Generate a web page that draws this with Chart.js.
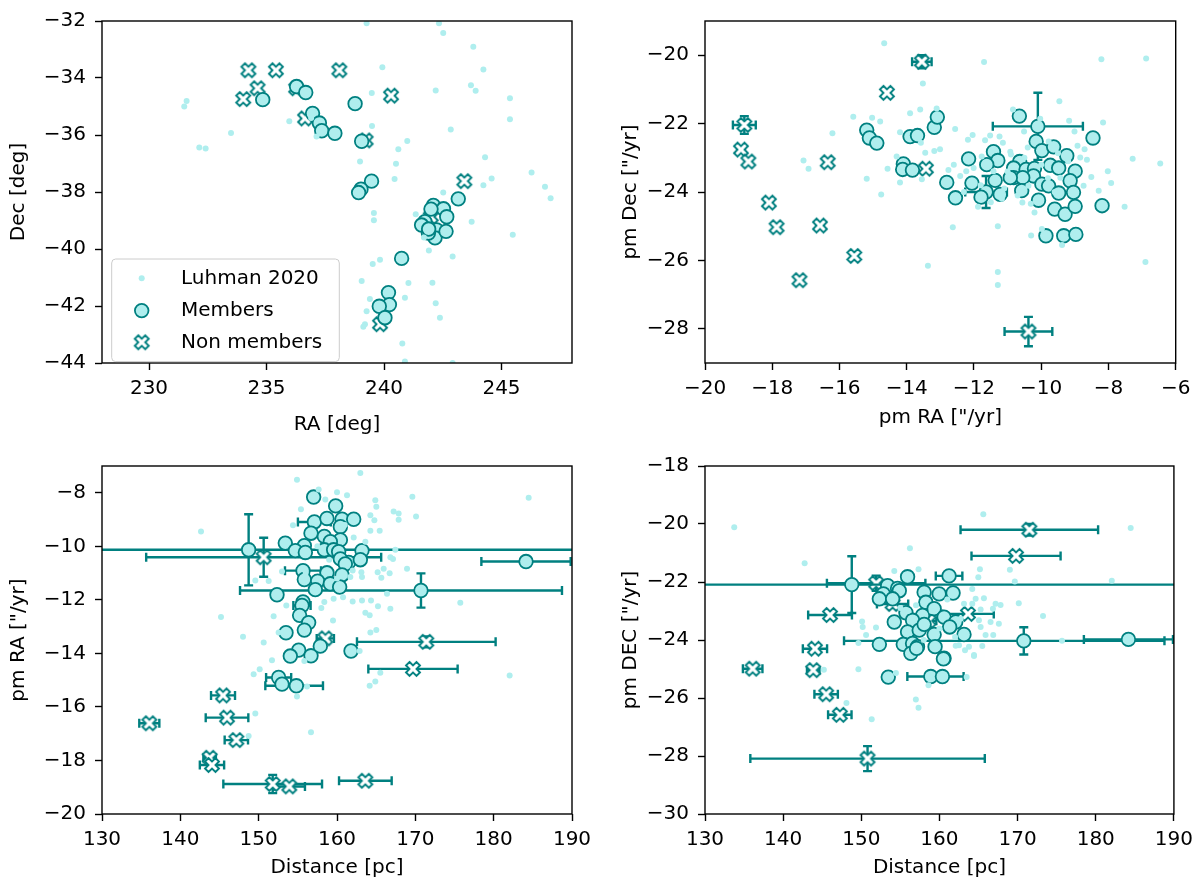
<!DOCTYPE html>
<html>
<head>
<meta charset="utf-8">
<script src="https://cdn.jsdelivr.net/npm/chart.js@4.4.0/dist/chart.umd.min.js"></script>
<style>
  body { margin: 0; background: #fff; width: 1200px; height: 890px; position: relative; overflow: hidden; }
  canvas { position: absolute; }
</style>
</head>
<body>
<canvas id="raDec" width="600" height="445" style="left:0;top:0"></canvas>
<canvas id="pm" width="600" height="445" style="left:600px;top:0"></canvas>
<canvas id="distPmra" width="600" height="445" style="left:0;top:445px"></canvas>
<canvas id="distPmdec" width="600" height="445" style="left:600px;top:445px"></canvas>
<script>
// ---- data ----
// points are [x, y] or [x, y, xerr, yerr]; xerr may be [minus, plus]

// RA / Dec
const raTicks = [230, 235, 240, 245];
const decTicks = [-44, -42, -40, -38, -36, -34, -32];
const raDecLuhman = [
  [239.26,-32.08],[242.34,-32.08],[242.52,-32.42],[243.80,-32.90],[239.93,-33.62],[244.23,-33.70],
  [243.70,-34.25],[243.90,-34.45],[242.20,-34.44],[239.48,-34.53],[245.36,-34.71],[231.60,-34.81],
  [231.50,-35.00],[245.36,-35.45],[235.97,-35.52],[239.49,-35.68],[242.84,-35.81],[233.49,-35.93],
  [240.99,-36.21],[240.61,-36.50],[232.14,-36.44],[232.41,-36.47],[238.98,-36.93],[240.51,-37.01],
  [244.30,-36.78],[240.45,-37.54],[244.58,-37.53],[244.23,-37.76],[246.28,-37.32],[246.85,-37.82],
  [247.09,-38.22],[242.52,-38.02],[237.13,-36.05],[243.73,-39.04],[245.48,-39.50],[241.35,-38.78],
  [239.57,-38.74],[239.57,-38.99],[241.91,-40.05],[242.92,-40.26],[239.83,-40.38],[239.52,-40.53],
  [239.05,-41.12],[241.04,-41.19],[242.06,-41.18],[240.89,-41.71],[242.20,-41.90],[242.38,-42.41],
  [239.40,-41.75],[239.26,-42.18],[239.19,-42.64],[239.12,-42.73],[240.78,-43.32],[240.89,-43.95],
  [242.92,-44.00],[236.90,-35.40],[241.70,-39.60]
];
const raDecMembers = [
  [234.84,-34.76],[236.28,-34.30],[236.67,-34.51],[238.77,-34.90],[236.96,-35.24],[237.25,-35.58],
  [237.35,-35.85],[237.91,-35.94],[239.05,-36.22],[239.47,-37.62],[239.02,-37.90],[238.92,-38.02],
  [243.16,-38.24],[242.10,-38.47],[242.53,-38.59],[242.67,-38.87],[241.74,-39.04],[241.60,-39.16],
  [242.24,-39.33],[242.17,-39.61],[242.64,-39.38],[241.89,-39.44],[242.00,-38.60],[241.90,-39.30],
  [240.75,-40.33],[240.19,-41.53],[240.23,-41.95],[239.80,-42.01],[240.04,-42.41]
];
const raDecNonMembers = [
  [234.23,-33.73],[235.40,-33.73],[238.10,-33.73],[234.62,-34.36],[234.01,-34.74],[236.26,-34.36],
  [240.30,-34.62],[236.64,-35.42],[239.22,-36.19],[243.42,-37.62],[241.99,-38.87],[242.05,-39.33],
  [239.83,-42.64]
];

// proper motions
const pmRaTicks = [-20, -18, -16, -14, -12, -10, -8, -6];
const pmDecTicks = [-28, -26, -24, -22, -20];
const pmLuhman = [
  [-14.67,-19.65],[-11.70,-20.20],[-8.21,-20.12],[-6.88,-20.10],[-13.52,-20.83],[-9.46,-21.35],
  [-15.59,-21.80],[-15.03,-21.83],[-14.79,-21.94],[-13.90,-21.70],[-13.60,-21.59],[-13.11,-21.56],
  [-8.16,-21.97],[-9.17,-21.92],[-9.01,-22.23],[-16.21,-22.28],[-14.20,-22.25],[-13.58,-22.56],
  [-13.45,-22.85],[-13.18,-22.80],[-13.01,-22.75],[-12.56,-22.16],[-12.18,-22.47],[-12.04,-22.33],
  [-11.67,-22.49],[-11.52,-22.35],[-11.24,-22.38],[-11.14,-22.56],[-10.92,-22.82],[-10.84,-21.59],
  [-10.51,-22.23],[-10.03,-21.86],[-9.78,-22.52],[-9.50,-22.87],[-8.92,-22.65],[-8.71,-22.75],
  [-8.84,-22.99],[-8.64,-23.06],[-7.28,-23.03],[-6.46,-23.17],[-8.02,-23.39],[-7.92,-23.74],
  [-8.51,-23.56],[-8.29,-23.96],[-17.07,-23.08],[-16.92,-23.32],[-14.57,-23.32],[-15.19,-23.61],
  [-14.76,-24.07],[-14.20,-23.72],[-13.55,-23.63],[-12.76,-23.36],[-12.41,-23.53],[-12.23,-23.39],
  [-12.01,-23.30],[-11.77,-22.96],[-11.42,-23.39],[-10.38,-23.82],[-9.43,-23.58],[-8.74,-23.82],
  [-14.30,-22.96],[-7.52,-24.43],[-12.63,-25.03],[-11.29,-25.00],[-10.30,-25.27],[-9.98,-25.08],
  [-9.38,-25.55],[-13.37,-26.16],[-11.29,-26.34],[-11.29,-26.72],[-6.90,-26.05],[-11.88,-24.43],
  [-10.56,-24.31],[-10.31,-24.34],[-11.17,-24.20],[-11.00,-23.40],[-10.50,-23.00],[-10.00,-23.20],
  [-9.80,-23.60],[-10.70,-24.10],[-11.80,-23.80],[-12.30,-24.00],[-9.20,-23.10],[-10.90,-22.90],
  [-11.50,-24.30],[-10.20,-24.60],[-9.60,-24.00],[-12.60,-23.20],[-11.10,-23.90],[-10.40,-22.70]
];
const pmMembers = [
  [-10.10,-22.08,1.34,0.98],[-11.64,-24.00,0.62,0.47],
  [-15.19,-22.19],[-15.11,-22.42],[-14.89,-22.57],[-13.90,-22.38],[-13.68,-22.35],[-13.18,-22.11],
  [-13.09,-21.81],[-10.65,-21.78],[-8.46,-22.42],[-10.15,-22.52],[-9.98,-22.79],[-9.63,-22.68],
  [-9.24,-22.94],[-12.16,-23.03],[-11.42,-22.82],[-11.29,-23.08],[-11.62,-23.20],[-10.64,-23.11],
  [-10.82,-23.30],[-9.73,-23.22],[-9.48,-23.30],[-8.99,-23.39],[-10.45,-23.34],[-10.20,-23.31],
  [-10.23,-23.53],[-9.98,-23.77],[-9.78,-23.82],[-9.14,-23.67],[-9.04,-24.01],[-10.82,-23.58],
  [-10.55,-23.58],[-10.92,-23.58],[-11.37,-23.66],[-12.06,-23.74],[-12.81,-23.72],[-12.55,-24.17],
  [-11.79,-24.15],[-11.22,-24.07],[-10.58,-23.96],[-10.08,-24.24],[-9.48,-24.03],[-8.19,-24.40],
  [-14.10,-23.18],[-14.12,-23.34],[-13.83,-23.36],[-9.60,-24.50],[-9.29,-24.65],[-8.99,-24.42],
  [-9.86,-25.28],[-9.33,-25.28],[-8.97,-25.24]
];
const pmNonMembers = [
  [-10.38,-28.08,0.71,0.43],[-13.43,-23.32],[-13.55,-20.19,0.29,0.19],[-14.59,-21.10],
  [-15.56,-25.87],[-16.35,-23.13],[-16.58,-24.98],[-17.19,-26.58],[-17.87,-25.03],
  [-18.10,-24.31],[-18.83,-22.04,0.34,0.26],[-18.93,-22.76],[-18.71,-23.11]
];

// distance / pm RA
const distTicks = [130, 140, 150, 160, 170, 180, 190];
const pmRaDistTicks = [-20, -18, -16, -14, -12, -10, -8];
const distPmraLuhman = [
  [162.98,-7.26],[154.89,-7.51],[157.66,-7.88],[160.00,-7.98],[161.28,-8.09],[158.51,-8.25],
  [169.62,-8.15],[184.47,-8.19],[164.89,-8.28],[165.02,-8.52],[155.40,-8.62],[167.23,-8.70],
  [167.87,-8.77],[170.09,-8.89],[167.87,-9.01],[164.26,-8.84],[164.77,-9.03],[142.64,-9.45],
  [154.38,-9.21],[164.26,-9.42],[165.45,-9.42],[162.13,-9.67],[163.62,-9.83],[167.45,-10.13],
  [166.81,-10.41],[167.15,-10.47],[165.19,-10.97],[165.96,-10.84],[166.72,-11.01],[168.94,-10.84],
  [163.11,-10.97],[163.19,-11.15],[165.66,-11.17],[152.98,-10.94],[151.28,-11.30],[149.57,-11.28],
  [161.70,-11.15],[166.38,-11.77],[160.77,-11.90],[159.57,-11.96],[163.19,-12.02],[164.34,-12.02],
  [162.00,-12.06],[158.38,-12.08],[165.23,-12.24],[166.81,-12.33],[163.62,-12.48],[164.17,-12.58],
  [175.74,-12.11],[153.53,-12.21],[151.91,-12.61],[145.19,-12.64],[159.49,-12.77],[165.02,-13.13],
  [164.26,-13.22],[148.00,-13.38],[150.64,-13.59],[152.55,-13.22],[162.89,-13.91],[151.70,-14.26],
  [150.13,-14.59],[149.36,-14.78],[155.83,-14.28],[154.89,-15.61],[156.17,-15.24],[164.17,-15.21],
  [164.89,-15.05],[165.53,-14.72],[182.04,-14.83],[149.57,-16.25],[156.68,-16.95],[148.72,-17.09],
  [157.00,-9.50],[159.00,-10.50],[156.00,-11.00],[161.00,-9.20],[158.00,-12.30],[160.00,-11.20],
  [162.00,-10.90],[157.50,-10.00]
];
const distPmraMembers = [
  [148.72,-10.13,60,1.33],[184.13,-10.57,5.7,0],[170.72,-11.65,[23.1,18.0],0.64],
  [152.34,-11.81],[157.02,-8.16],[159.83,-8.49],[157.11,-9.09,2.1,0],[158.72,-8.96],[160.64,-8.99],
  [162.13,-8.99],[160.43,-9.27],[156.68,-9.51],[158.38,-9.63],[160.43,-9.76],[159.15,-9.83],
  [155.83,-9.98],[153.40,-9.88],[154.68,-10.16],[155.96,-10.23],[158.38,-10.13],[159.57,-10.13],
  [160.21,-10.20],[163.19,-10.16],[161.49,-10.60],[162.98,-10.50],[160.43,-10.47],[161.06,-10.66],
  [155.66,-10.91,2.3,0],[158.72,-10.99],[160.64,-11.07],[155.83,-11.24],[157.53,-11.30],
  [159.15,-11.40],[157.23,-11.62],[160.34,-11.52],[155.66,-12.08],[155.53,-12.21,1.1,0],
  [155.23,-12.58],[156.38,-12.85],[155.83,-13.13],[153.49,-13.23],[155.11,-13.88],[154.04,-14.10],
  [156.68,-14.09],[161.79,-13.91],[157.87,-13.73],[152.55,-14.90,1.6,0],[152.98,-15.15],
  [154.81,-15.21,[3.96,3.4],0]
];
const distPmraNonMembers = [
  [150.64,-10.41,15,0.73],[158.51,-13.44,1.1,0],[171.40,-13.57,8.85,0.2],[169.70,-14.58,5.7,0],
  [145.45,-15.57,1.53,0],[145.96,-16.40,2.72,0],[136.04,-16.61,1.28,0],[147.15,-17.24,1.49,0],
  [143.74,-17.90,0.8,0],[144.04,-18.17,1.55,0],[151.79,-18.88,6.3,0.34],[153.91,-18.97,2.0,0],
  [163.62,-18.76,3.36,0]
];

// distance / pm Dec
const pmDecDistTicks = [-30, -28, -26, -24, -22, -20, -18];
const distPmdecLuhman = [
  [133.74,-20.11],[165.61,-19.66],[184.47,-20.14],[156.22,-20.84],[142.75,-21.35],[157.32,-21.56],
  [154.22,-21.62],[165.18,-21.56],[169.01,-21.58],[164.97,-21.84],[169.64,-21.98],[182.05,-21.96],
  [170.15,-22.73],[173.25,-23.17],[164.20,-22.24],[164.63,-22.58],[165.69,-22.56],[167.18,-22.75],
  [167.82,-22.79],[166.84,-22.92],[165.27,-22.95],[164.20,-22.75],[163.14,-22.75],[162.72,-23.27],
  [165.05,-23.32],[165.27,-23.55],[166.54,-23.38],[166.88,-23.83],[165.90,-23.83],[167.60,-23.44],
  [164.42,-24.52],[175.68,-24.03],[150.10,-23.36],[150.18,-23.55],[151.88,-23.57],[150.61,-23.83],
  [149.63,-24.10],[165.48,-24.21],[163.78,-24.23],[162.50,-24.18],[164.42,-24.55],[162.08,-24.20],
  [163.27,-24.35],[149.63,-25.01],[154.43,-25.14],[145.21,-25.03],[148.10,-26.17],[151.33,-26.73],
  [156.98,-26.05],[157.32,-26.34],[163.48,-25.28],[158.60,-25.56],[157.00,-22.80],[159.00,-23.00],
  [160.00,-23.60],[156.00,-23.00],[158.00,-24.00],[161.00,-22.60],[162.00,-23.90],[155.00,-22.90]
];
const distPmdecMembers = [
  [148.78,-22.09,60,0.98],[170.79,-24.03,[23.0,18.0],0.47],[184.18,-23.98,5.7,0],[152.31,-24.15],
  [155.92,-21.82],[161.23,-21.79,1.7,0],[153.37,-22.13],[154.64,-22.22],[154.86,-22.30],
  [152.82,-22.41],[152.31,-22.58],[154.01,-22.58],[158.04,-22.35],[159.96,-22.41],[161.74,-22.38],
  [158.26,-22.70],[159.32,-22.92],[155.71,-23.06],[157.83,-23.15],[156.56,-23.32],[160.59,-23.21],
  [162.08,-23.38],[161.31,-23.55],[154.22,-23.38],[155.92,-23.72],[159.32,-23.81],[163.14,-23.81],
  [157.41,-23.66],[158.04,-23.46],[155.37,-24.15],[156.56,-24.12],[157.19,-24.23],[159.44,-24.23],
  [160.59,-24.63],[156.34,-24.46],[157.07,-24.29],[160.51,-24.65],[158.89,-25.26,[3.0,4.2],0],
  [160.38,-25.26],[153.45,-25.28]
];
const distPmdecNonMembers = [
  [150.80,-28.09,15,0.43],[158.60,-23.34,1.0,0],[171.50,-20.20,8.8,0.2],[169.80,-21.10,5.7,0],
  [145.50,-25.87,1.5,0],[146.00,-23.14,2.8,0],[136.10,-24.99,1.25,0],[147.25,-26.58,1.5,0],
  [143.85,-25.04,0.8,0],[144.07,-24.30,1.55,0],[151.90,-22.04,6.3,0.26],[154.00,-22.76,2.0,0],
  [163.65,-23.10,3.3,0]
];

// ---- styling ----
const TEAL = '#008080';
const PALE = '#afeeee';
const FONT = '"DejaVu Sans", sans-serif';

function toPts(arr) {
  return arr.map(p => {
    const xe = p[2] || 0;
    return {
      x: p[0], y: p[1],
      xlo: Array.isArray(xe) ? xe[0] : xe,
      xhi: Array.isArray(xe) ? xe[1] : xe,
      yerr: p[3] || 0
    };
  });
}

// matplotlib-style filled "X" marker, white with teal edge
function makeXMarker(size) {
  const c = document.createElement('canvas');
  const pad = 3;
  c.width = c.height = size + pad * 2;
  const g = c.getContext('2d');
  const verts = [[-1,-2],[0,-1],[1,-2],[2,-1],[1,0],[2,1],[1,2],[0,1],[-1,2],[-2,1],[-1,0],[-2,-1]];
  const k = size / 4, o = c.width / 2;
  g.beginPath();
  verts.forEach((v, i) => {
    const px = o + v[0] * k, py = o + v[1] * k;
    if (i === 0) g.moveTo(px, py); else g.lineTo(px, py);
  });
  g.closePath();
  g.fillStyle = '#fff';
  g.fill();
  g.lineWidth = 1.9;
  g.lineJoin = 'miter';
  g.strokeStyle = TEAL;
  g.stroke();
  return c;
}
const xMarker = makeXMarker(14);

// error bars drawn just before the markers of their own dataset
const errorBarPlugin = {
  id: 'errorBars',
  beforeDatasetDraw(chart, args) {
    const ds = chart.data.datasets[args.index];
    const xs = chart.scales.x, ys = chart.scales.y, ctx = chart.ctx, a = chart.chartArea;
    const cap = 4.5;
    ctx.save();
    ctx.beginPath();
    ctx.rect(a.left, a.top, a.right - a.left, a.bottom - a.top);
    ctx.clip();
    ctx.strokeStyle = TEAL;
    ctx.lineWidth = 2.4;
    ds.data.forEach(p => {
      const px = xs.getPixelForValue(p.x), py = ys.getPixelForValue(p.y);
      ctx.beginPath();
      if (p.xlo || p.xhi) {
        const x0 = xs.getPixelForValue(p.x - p.xlo), x1 = xs.getPixelForValue(p.x + p.xhi);
        ctx.moveTo(x0, py); ctx.lineTo(x1, py);
        ctx.moveTo(x0, py - cap); ctx.lineTo(x0, py + cap);
        ctx.moveTo(x1, py - cap); ctx.lineTo(x1, py + cap);
      }
      if (p.yerr) {
        const y0 = ys.getPixelForValue(p.y - p.yerr), y1 = ys.getPixelForValue(p.y + p.yerr);
        ctx.moveTo(px, y0); ctx.lineTo(px, y1);
        ctx.moveTo(px - cap, y0); ctx.lineTo(px + cap, y0);
        ctx.moveTo(px - cap, y1); ctx.lineTo(px + cap, y1);
      }
      ctx.stroke();
    });
    ctx.restore();
  }
};

// full box around the axes
const framePlugin = {
  id: 'frame',
  afterDatasetsDraw(chart) {
    const {ctx, chartArea: a} = chart;
    ctx.save();
    ctx.strokeStyle = '#000';
    ctx.lineWidth = 1.4;
    ctx.strokeRect(a.left, a.top, a.right - a.left, a.bottom - a.top);
    ctx.restore();
  }
};

// legend box in the lower-left corner of the first panel
const boxLegendPlugin = {
  id: 'boxLegend',
  afterDraw(chart) {
    const {ctx, chartArea: a} = chart;
    const bx = a.left + 9.7, by = a.top + 238, bw = 227.6, bh = 102.6, r = 4;
    ctx.save();
    ctx.beginPath();
    ctx.moveTo(bx + r, by);
    ctx.arcTo(bx + bw, by, bx + bw, by + bh, r);
    ctx.arcTo(bx + bw, by + bh, bx, by + bh, r);
    ctx.arcTo(bx, by + bh, bx, by, r);
    ctx.arcTo(bx, by, bx + bw, by, r);
    ctx.closePath();
    ctx.fillStyle = 'rgba(255,255,255,0.8)';
    ctx.fill();
    ctx.strokeStyle = '#cccccc';
    ctx.lineWidth = 1;
    ctx.stroke();

    const mx = bx + 30, tx = bx + 69.3;
    const rows = [by + 19.3, by + 51.6, by + 83.3];
    const ds = chart.data.datasets;
    // Luhman dot
    ctx.beginPath();
    ctx.arc(mx, rows[0], 3, 0, Math.PI * 2);
    ctx.fillStyle = PALE;
    ctx.fill();
    // member circle
    ctx.beginPath();
    ctx.arc(mx, rows[1], 6.8, 0, Math.PI * 2);
    ctx.fillStyle = PALE;
    ctx.fill();
    ctx.lineWidth = 1.8;
    ctx.strokeStyle = TEAL;
    ctx.stroke();
    // non member X
    ctx.drawImage(xMarker, mx - xMarker.width / 2, rows[2] - xMarker.height / 2);

    ctx.fillStyle = '#000';
    ctx.font = '20px ' + FONT;
    ctx.textBaseline = 'middle';
    ctx.textAlign = 'left';
    rows.forEach((y, i) => ctx.fillText(ds[i].label, tx, y));
    ctx.restore();
  }
};

function axis(min, max, ticks, title, horizontal, fitSize, titlePad) {
  return {
    type: 'linear',
    min: min,
    max: max,
    afterBuildTicks: s => { s.ticks = ticks.map(v => ({value: v})); },
    afterFit: s => { if (horizontal) s.height = fitSize; else s.width = fitSize; },
    grid: {drawOnChartArea: false, drawTicks: true, tickLength: 7, tickWidth: 1.4, tickColor: '#000'},
    border: {display: false},
    ticks: {
      color: '#000',
      font: {family: FONT, size: 20},
      padding: horizontal ? 7 : 9,
      maxRotation: 0,
      autoSkip: false,
      callback: v => String(v).replace('-', '\u2212')
    },
    title: {
      display: true,
      text: title,
      color: '#000',
      font: {family: FONT, size: 20},
      padding: horizontal ? {top: 0, bottom: titlePad} : {top: titlePad, bottom: 0}
    }
  };
}

function makePanel(id, box, sets, xAxis, yAxis, extraPlugins) {
  return new Chart(document.getElementById(id), {
    type: 'scatter',
    data: {
      datasets: [
        {label: 'Luhman 2020', data: toPts(sets[0]), pointStyle: 'circle', pointRadius: 3,
         pointBackgroundColor: PALE, pointBorderWidth: 0},
        {label: 'Members', data: toPts(sets[1]), pointStyle: 'circle', pointRadius: 6.8,
         pointBackgroundColor: PALE, pointBorderColor: TEAL, pointBorderWidth: 1.8},
        {label: 'Non members', data: toPts(sets[2]), pointStyle: xMarker, pointRadius: 7}
      ]
    },
    options: {
      responsive: false,
      animation: false,
      events: [],
      layout: {autoPadding: false, padding: {left: 0, top: box.top, right: 600 - box.right, bottom: 0}},
      plugins: {legend: {display: false}, tooltip: {enabled: false}},
      scales: {x: xAxis(445 - box.bottom), y: yAxis(box.left)}
    },
    plugins: [errorBarPlugin, framePlugin].concat(extraPlugins || [])
  });
}

makePanel('raDec', {left: 102, right: 572, top: 12.7, bottom: 363},
  [raDecLuhman, raDecMembers, raDecNonMembers],
  h => axis(228, 248, raTicks, 'RA [deg]', true, h, 8.4),
  w => axis(-44, -32, decTicks, 'Dec [deg]', false, w, 6.6),
  [boxLegendPlugin]);

makePanel('pm', {left: 105, right: 575.7, top: 12.7, bottom: 363},
  [pmLuhman, pmMembers, pmNonMembers],
  h => axis(-20, -6, pmRaTicks, 'pm RA ["/yr]', true, h, 15.4),
  w => axis(-29, -19, pmDecTicks, 'pm Dec ["/yr]', false, w, 18.6));

makePanel('distPmra', {left: 102, right: 572, top: 18, bottom: 369},
  [distPmraLuhman, distPmraMembers, distPmraNonMembers],
  h => axis(130, 190, distTicks, 'Distance [pc]', true, h, 10.4),
  w => axis(-20, -7, pmRaDistTicks, 'pm RA ["/yr]', false, w, 6.6));

makePanel('distPmdec', {left: 105, right: 575.7, top: 18, bottom: 369},
  [distPmdecLuhman, distPmdecMembers, distPmdecNonMembers],
  h => axis(130, 190, distTicks, 'Distance [pc]', true, h, 10.4),
  w => axis(-30, -18, pmDecDistTicks, 'pm DEC ["/yr]', false, w, 18.6));
</script>
</body>
</html>
